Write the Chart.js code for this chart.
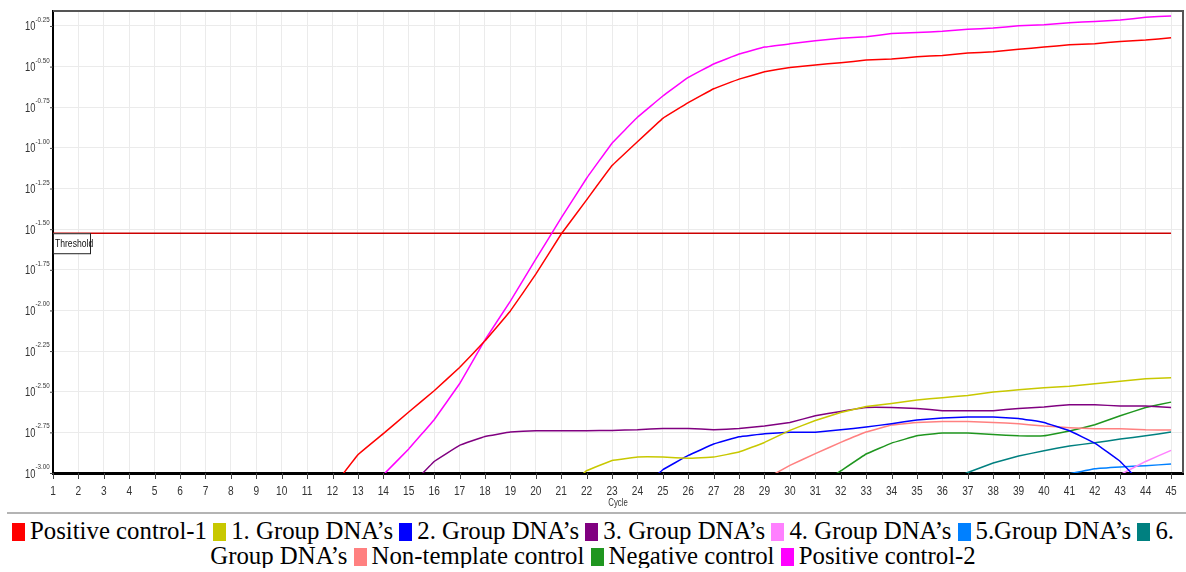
<!DOCTYPE html>
<html>
<head>
<meta charset="utf-8">
<script src="https://cdn.jsdelivr.net/npm/chart.js@4.4.1/dist/chart.umd.min.js"></script>
<style>
  body { margin: 0; background: #fff; }
  #wrap { position: relative; width: 1186px; height: 512px; }
  #rule { margin-left: 7px; width: 1179px; border-top: 2px solid #b4b4b4; }
  #legend {
    width: 1186px; text-align: center;
    font-family: "Liberation Serif", "DejaVu Serif", "Noto Serif", serif;
    font-size: 24.8px; line-height: 25px; color: #000; padding-top: 4px;
  }
  .sw { display: inline-block; width: 13px; height: 18px; margin-right: 5px; vertical-align: -2px; }
</style>
</head>
<body>
<div id="wrap"><canvas id="pcr" width="1186" height="512"></canvas></div>
<div id="rule"></div>
<div id="legend"></div>
<script>
// x axis: PCR cycles, y axis: log10 of fluorescence
const cycles = [1, 2, 3, 4, 5, 6, 7, 8, 9, 10, 11, 12, 13, 14, 15, 16, 17, 18, 19, 20, 21, 22, 23,
    24, 25, 26, 27, 28, 29, 30, 31, 32, 33, 34, 35, 36, 37, 38, 39, 40, 41, 42, 43, 44, 45];
const yTicks = [-3, -2.75, -2.5, -2.25, -2, -1.75, -1.5, -1.25, -1, -0.75, -0.5, -0.25];
const yTickLabels = ['-3.00', '-2.75', '-2.50', '-2.25', '-2.00', '-1.75', '-1.50', '-1.25', '-1.00', '-0.75', '-0.50', '-0.25'];
const threshold = -1.525;

const names = ['Positive control-1', '1. Group DNA\u2019s', '2. Group DNA\u2019s', '3. Group DNA\u2019s',
    '4. Group DNA\u2019s', '5.Group DNA\u2019s', '6. Group DNA\u2019s', 'Non-template control',
    'Negative control', 'Positive control-2'];
const colors = ['#ff0000', '#c8c800', '#0000ff', '#800080', '#ff80ff', '#0080ff', '#008080',
    '#ff8080', '#1f961f', '#ff00ff'];
// first cycle of each curve (earlier cycles are below the axis)
const firstCycle = [12, 21, 24, 15, 43, 41, 36, 29, 31, 14];

const posControl1 = [-3.09, -2.888, -2.758, -2.625, -2.494, -2.351, -2.187, -2.003, -1.777, -1.53,
    -1.32, -1.109, -0.962, -0.818, -0.722, -0.636, -0.577, -0.532, -0.505, -0.49, -0.476, -0.46,
    -0.454, -0.44, -0.431, -0.417, -0.409, -0.394, -0.38, -0.366, -0.36, -0.345, -0.337, -0.323];
const group1 = [-3.13, -2.986, -2.923, -2.902, -2.902, -2.91, -2.902, -2.871, -2.812, -2.738, -2.677,
    -2.628, -2.591, -2.572, -2.551, -2.537, -2.523, -2.502, -2.488, -2.475, -2.466, -2.451, -2.435,
    -2.42, -2.414];
const group2 = [-3.12, -2.98, -2.892, -2.822, -2.777, -2.758, -2.75, -2.75, -2.734, -2.717, -2.697,
    -2.674, -2.662, -2.656, -2.656, -2.664, -2.689, -2.74, -2.816, -2.929, -3.09];
const group3 = [-3.09, -2.929, -2.83, -2.775, -2.748, -2.74, -2.74, -2.74, -2.738, -2.734, -2.726,
    -2.726, -2.734, -2.726, -2.711, -2.689, -2.648, -2.621, -2.597, -2.597, -2.603, -2.617, -2.617,
    -2.617, -2.603, -2.594, -2.58, -2.58, -2.588, -2.588, -2.597];
const group4 = [-3.01, -2.929, -2.861];
const group5 = [-3.005, -2.974, -2.963, -2.955, -2.945];
const group6 = [-3.07, -2.997, -2.939, -2.896, -2.863, -2.834, -2.814, -2.791, -2.771, -2.748];
const nonTemplate = [-3.04, -2.953, -2.881, -2.812, -2.748, -2.705, -2.689, -2.683, -2.683, -2.689,
    -2.697, -2.711, -2.721, -2.728, -2.728, -2.734, -2.736];
const negControl = [-3.09, -2.987, -2.883, -2.816, -2.771, -2.754, -2.754, -2.763, -2.771, -2.771,
    -2.742, -2.703, -2.648, -2.597, -2.564];
const posControl2 = [-3.011, -2.852, -2.672, -2.451, -2.181, -1.943, -1.685, -1.431, -1.187, -0.971,
    -0.812, -0.681, -0.567, -0.484, -0.423, -0.38, -0.36, -0.341, -0.325, -0.317, -0.297, -0.29,
    -0.283, -0.271, -0.263, -0.249, -0.243, -0.23, -0.222, -0.214, -0.196, -0.189];

const series = [posControl1, group1, group2, group3, group4, group5, group6, nonTemplate, negControl, posControl2];

const sans = '"Liberation Sans", Arial, sans-serif';

const datasets = series.map((vals, i) => ({
    label: names[i],
    data: vals.map((v, k) => ({ x: firstCycle[i] + k, y: v })),
    borderColor: colors[i],
    borderWidth: 1.5,
    pointRadius: 0,
    tension: 0.05
}));
datasets.push({
    label: 'Threshold',
    data: [{ x: cycles[0], y: threshold }, { x: cycles[cycles.length - 1], y: threshold }],
    borderColor: '#cc0000',
    borderWidth: 1.5,
    pointRadius: 0
});

// condensed text, like the narrow font of the original software
function narrowText(ctx, text, x, y, size, align) {
    ctx.save();
    ctx.font = size + 'px ' + sans;
    ctx.textAlign = align;
    ctx.textBaseline = 'alphabetic';
    ctx.translate(x, y);
    ctx.scale(0.78, 1);
    ctx.fillText(text, 0, 0);
    ctx.restore();
}

const decorations = {
    id: 'decorations',
    afterDraw(chart) {
        const ctx = chart.ctx;
        const a = chart.chartArea;
        const xs = chart.scales.x, ys = chart.scales.y;
        ctx.save();
        // top and right frame
        ctx.strokeStyle = '#555';
        ctx.lineWidth = 2;
        ctx.beginPath();
        ctx.moveTo(a.left, a.top);
        ctx.lineTo(a.right, a.top);
        ctx.lineTo(a.right, a.bottom);
        ctx.stroke();

        // y labels as 10^x
        ctx.fillStyle = '#333';
        ctx.strokeStyle = '#444';
        ctx.lineWidth = 1;
        yTicks.forEach((v, i) => {
            const py = ys.getPixelForValue(v);
            ctx.beginPath();
            ctx.moveTo(a.left - 3, py + 0.5);
            ctx.lineTo(a.left, py + 0.5);
            ctx.stroke();
            narrowText(ctx, '10', 35.5, py + 4.5, 12, 'right');
            narrowText(ctx, yTickLabels[i], 35.5, py - 4, 8, 'left');
        });

        // x labels
        cycles.forEach(c => {
            const px = xs.getPixelForValue(c);
            ctx.beginPath();
            ctx.moveTo(Math.round(px) + 0.5, a.bottom);
            ctx.lineTo(Math.round(px) + 0.5, a.bottom + 6);
            ctx.stroke();
            narrowText(ctx, String(c), px, a.bottom + 22, 13, 'center');
        });
        narrowText(ctx, 'Cycle', (a.left + a.right) / 2, a.bottom + 33, 10, 'center');

        // threshold tag
        const ty = ys.getPixelForValue(threshold);
        ctx.fillStyle = '#fff';
        ctx.fillRect(a.left, ty, 37, 20);
        ctx.strokeStyle = '#222';
        ctx.strokeRect(a.left + 0.5, ty + 0.5, 37, 20);
        ctx.fillStyle = '#111';
        narrowText(ctx, 'Threshold', a.left + 2, ty + 14, 11, 'left');
        ctx.restore();
    }
};

new Chart(document.getElementById('pcr'), {
    type: 'line',
    data: { datasets },
    options: {
        responsive: false,
        animation: false,
        devicePixelRatio: 1,
        layout: { padding: { left: 53, right: 3, top: 11, bottom: 39 } },
        plugins: { legend: { display: false }, tooltip: { enabled: false } },
        scales: {
            x: {
                type: 'linear',
                min: 1,
                max: 45.47,
                afterBuildTicks: s => { s.ticks = cycles.map(c => ({ value: c })); },
                ticks: { display: false },
                grid: { color: '#ebebeb', drawTicks: false },
                border: { color: '#000', width: 3 }
            },
            y: {
                type: 'linear',
                min: -3,
                max: -0.158,
                afterBuildTicks: s => { s.ticks = yTicks.map(v => ({ value: v })); },
                ticks: { display: false },
                grid: { color: '#ebebeb', drawTicks: false },
                border: { color: '#000', width: 2 }
            }
        }
    },
    plugins: [decorations]
});

document.getElementById('legend').innerHTML = names.map((n, i) =>
    `<span class="sw" style="background:${colors[i]}"></span>${n}`
).join(' ');
</script>
</body>
</html>
